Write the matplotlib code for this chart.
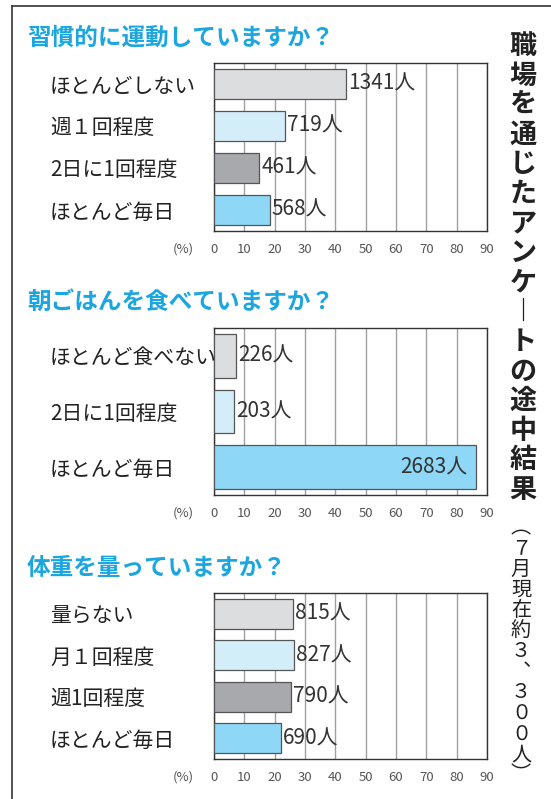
import matplotlib.pyplot as plt
import numpy as np
from matplotlib.lines import Line2D

plt.rcParams['font.family'] = ['Noto Sans CJK JP', 'DejaVu Sans']

# ---- data ----
q1_title = "習慣的に運動していますか？"
q1_labels = ["ほとんどしない", "週１回程度", "2日に1回程度", "ほとんど毎日"]
q1_counts = [1341, 719, 461, 568]

q2_title = "朝ごはんを食べていますか？"
q2_labels = ["ほとんど食べない", "2日に1回程度", "ほとんど毎日"]
q2_counts = [226, 203, 2683]

q3_title = "体重を量っていますか？"
q3_labels = ["量らない", "月１回程度", "週1回程度", "ほとんど毎日"]
q3_counts = [815, 827, 790, 690]

# vertical-form characters for the side caption
side_title = "職場を通じたアンケ︱トの途中結果"
side_note = "︵７月現在約３︑３００人︶"

colors4 = ["#dcdddf", "#d3eef9", "#a7a9ac", "#8fd7f6"]
colors3 = ["#dcdddf", "#d3eef9", "#8fd7f6"]
title_color = "#1ba6df"

W, H = 551, 799
fig = plt.figure(figsize=(W / 100, H / 100), dpi=100)

# (title, labels, counts, colors, title y, axes top, axes bottom) in pixels
panels = [
    (q1_title, q1_labels, q1_counts, colors4, 38, 63, 231),
    (q2_title, q2_labels, q2_counts, colors3, 302, 328, 495),
    (q3_title, q3_labels, q3_counts, colors4, 568, 593, 759),
]

for title, labels, counts, colors, ty, top, bottom in panels:
    ax = fig.add_axes([214 / W, 1 - bottom / H, 273 / W, (bottom - top) / H])
    pct = np.array(counts) / sum(counts) * 100
    y = np.arange(len(labels))
    h = 0.73 if len(labels) == 4 else 0.78
    ax.barh(y, pct, height=h, color=colors, edgecolor='#555555',
            linewidth=0.9, zorder=3)
    for i, (p, c) in enumerate(zip(pct, counts)):
        if p > 70:
            ax.annotate(f"{c}人", xy=(p, i), xytext=(-6, 0),
                        textcoords='offset points', ha='right', va='center',
                        fontsize=15, color='#333333')
        else:
            ax.annotate(f"{c}人", xy=(p, i), xytext=(1.5, 0),
                        textcoords='offset points', ha='left', va='center',
                        fontsize=15, color='#333333')

    ax.set_xlim(0, 90)
    ax.set_ylim(len(labels) - 0.5, -0.5)
    ax.set_xticks(np.arange(0, 91, 10))
    ax.set_yticks(y)
    ax.set_yticklabels(labels, fontsize=15, color='#222222')
    for lbl in ax.get_yticklabels():
        lbl.set_ha('left')
    ax.tick_params(axis='y', length=0, pad=118)
    ax.tick_params(axis='x', length=0, pad=8.5, labelsize=9.5, labelcolor='#555555')
    ax.xaxis.grid(True, color='#a0a0a0', linewidth=1)
    ax.set_axisbelow(True)
    for s in ax.spines.values():
        s.set_color('#333333')
        s.set_linewidth(1)

    fig.text(27 / W, 1 - ty / H, title, ha='left', va='center',
             fontsize=17, fontweight='bold', color=title_color)
    fig.text(183 / W, 1 - (bottom + 18) / H, "(%)", ha='center', va='center',
             fontsize=9.5, color='#555555')

# vertical side caption
for i, ch in enumerate(side_title):
    fig.text(523 / W, 1 - (46 + i * 29.6) / H, ch, ha='center', va='center',
             fontsize=19.5, fontweight='bold', color='#222222')
for i, ch in enumerate(side_note):
    fig.text(521 / W, 1 - (528 + i * 20.6) / H, ch, ha='center', va='center',
             fontsize=14.5, color='#222222')

# frame lines
fig.add_artist(Line2D([12 / W, 1], [1 - 6 / H, 1 - 6 / H], color='#333333', lw=1.2))
fig.add_artist(Line2D([12 / W, 12 / W], [1 - 6 / H, 0], color='#333333', lw=1.2))

fig.savefig("out.png", dpi=100)
